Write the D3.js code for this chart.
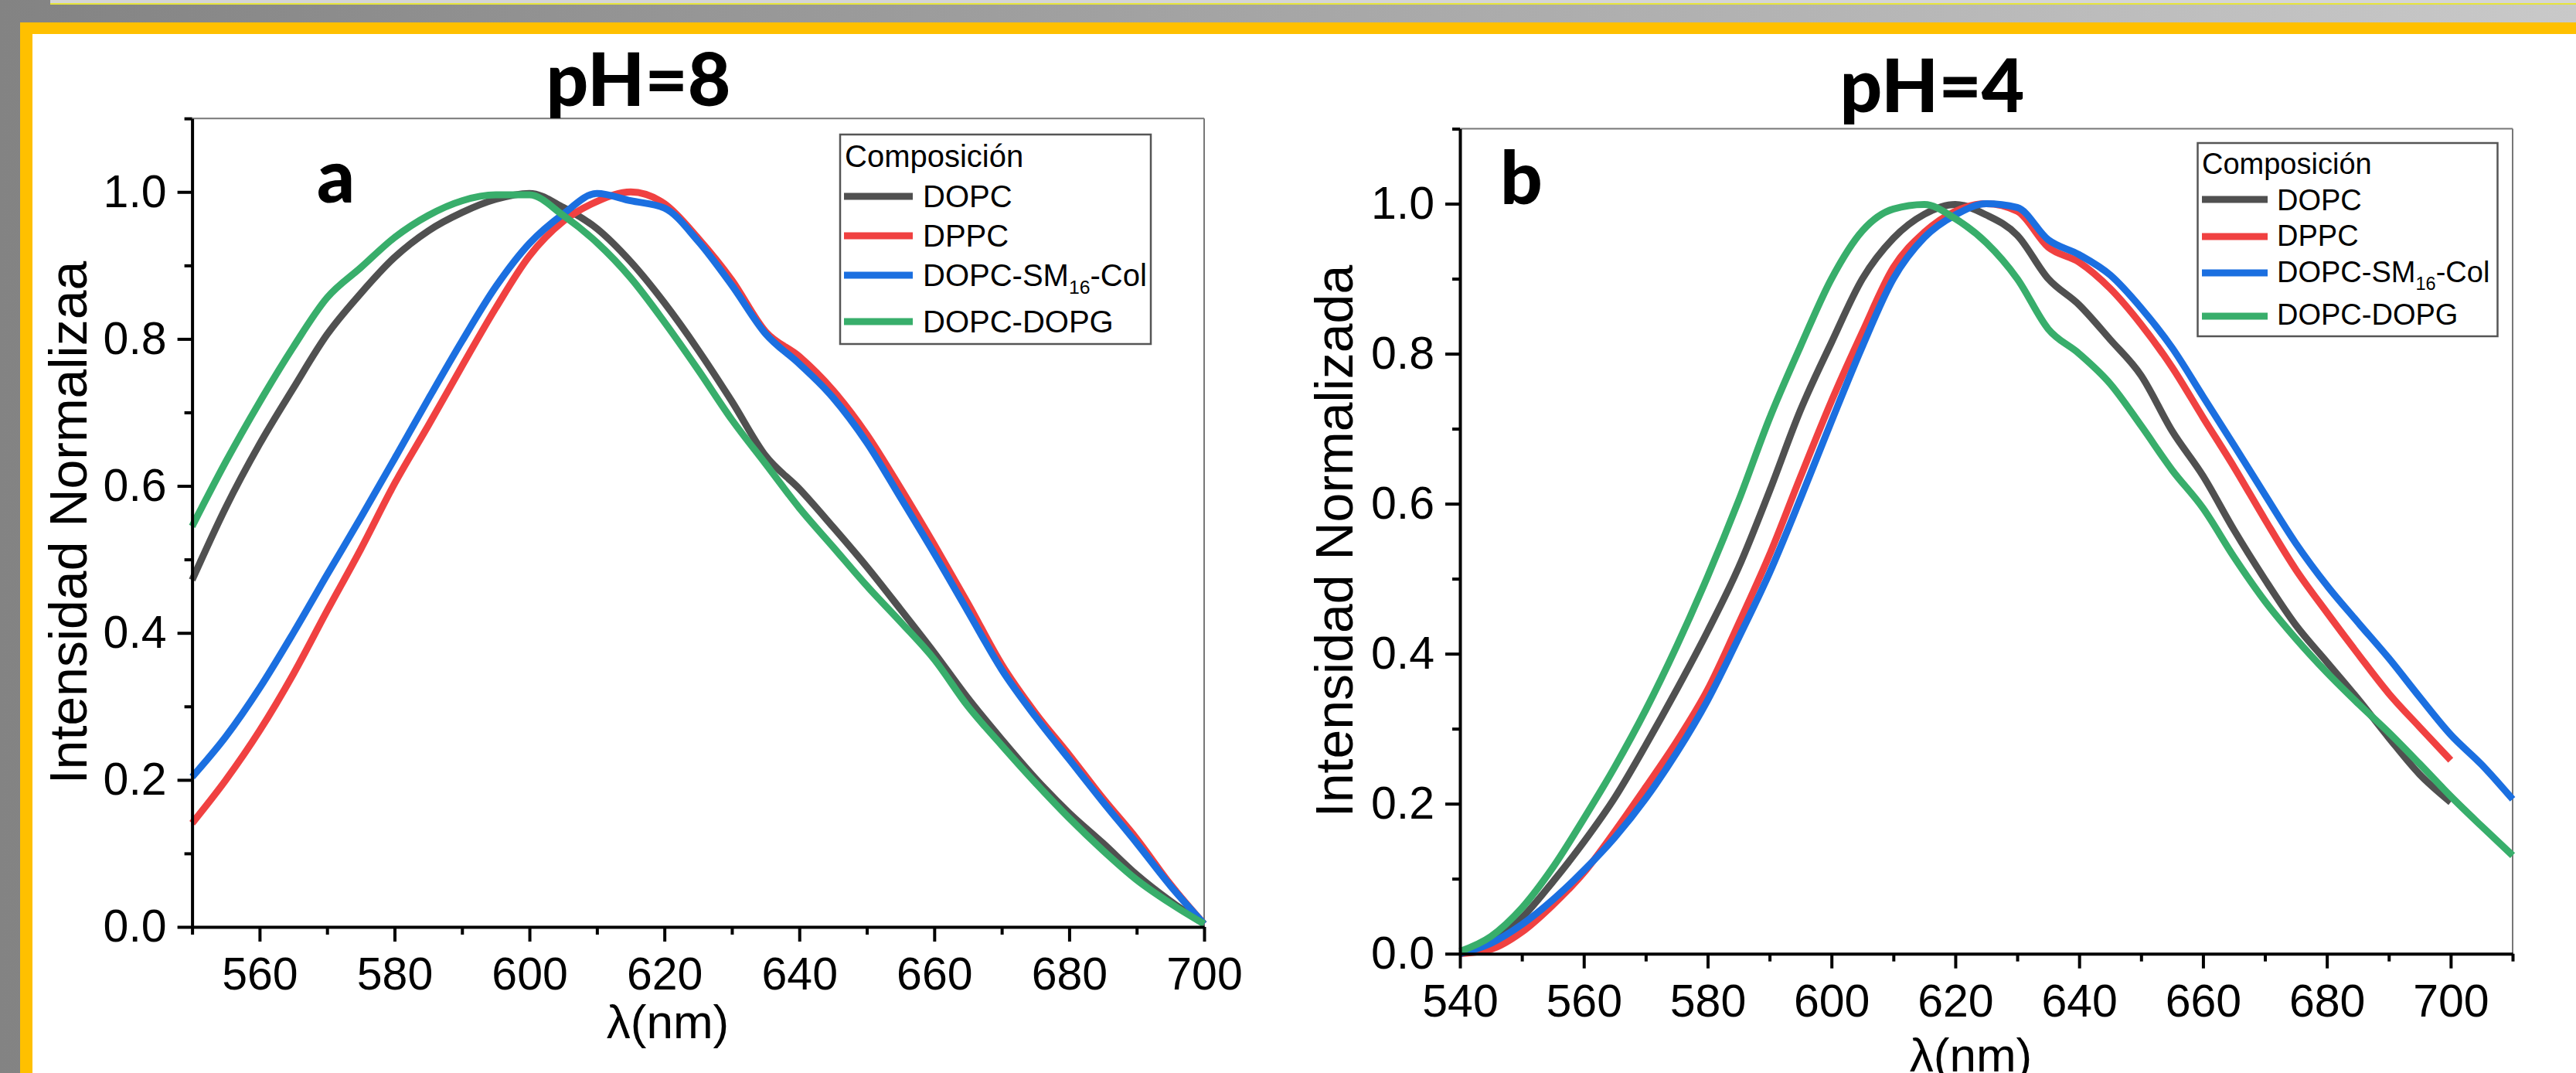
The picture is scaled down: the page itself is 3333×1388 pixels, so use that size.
<!DOCTYPE html>
<html><head><meta charset="utf-8">
<script src="https://cdn.jsdelivr.net/npm/d3@7"></script>
<style>body{margin:0;background:#fff}svg{display:block}</style>
</head><body>
<svg id="c" width="3333" height="1388"></svg>
<script>
// ---------- DATA ----------
const seriesNames = ["DOPC", "DPPC", "DOPC-SM16-Col", "DOPC-DOPG"];
const seriesColors = ["#505050", "#f04141", "#1b6fe0", "#38ae6b"];

// Panel a (pH=8)
const wlA = [550,555,560,565,570,575,580,585,590,595,600,605,610,615,620,625,630,635,640,645,650,655,660,665,670,675,680,685,690,695,700];
const a_DOPC = [0.472,0.571,0.657,0.733,0.806,0.862,0.911,0.947,0.972,0.990,0.998,0.979,0.950,0.905,0.849,0.785,0.715,0.641,0.596,0.544,0.490,0.432,0.373,0.311,0.255,0.202,0.155,0.114,0.071,0.035,0.004];
const a_DPPC = [0.141,0.200,0.267,0.344,0.430,0.514,0.603,0.682,0.763,0.842,0.913,0.960,0.987,1.000,0.984,0.937,0.880,0.810,0.776,0.730,0.670,0.597,0.520,0.440,0.357,0.291,0.234,0.175,0.120,0.058,0.004];
const a_SM   = [0.204,0.259,0.325,0.400,0.479,0.557,0.637,0.718,0.797,0.871,0.930,0.970,0.998,0.988,0.978,0.933,0.873,0.807,0.766,0.720,0.659,0.584,0.508,0.429,0.350,0.286,0.228,0.170,0.114,0.056,0.004];
const a_DOPG = [0.545,0.633,0.714,0.789,0.856,0.897,0.938,0.968,0.988,0.996,0.996,0.968,0.931,0.883,0.823,0.758,0.690,0.630,0.570,0.517,0.464,0.415,0.364,0.300,0.247,0.196,0.148,0.104,0.064,0.032,0.004];

// Panel b (pH=4)
const wlB = [540,545,550,555,560,565,570,575,580,585,590,595,600,605,610,615,620,625,630,635,640,645,650,655,660,665,670,675,680,685,690,695,700,705,710];
const b_DOPC = [0,0.016,0.048,0.096,0.149,0.208,0.278,0.352,0.430,0.515,0.617,0.725,0.815,0.900,0.954,0.986,0.999,0.985,0.958,0.900,0.865,0.819,0.771,0.697,0.637,0.565,0.499,0.438,0.389,0.340,0.288,0.239,0.202];
const b_DPPC = [0,0.006,0.029,0.065,0.108,0.163,0.222,0.283,0.352,0.440,0.532,0.636,0.737,0.829,0.915,0.962,0.990,1.000,0.990,0.942,0.922,0.887,0.839,0.782,0.715,0.649,0.579,0.512,0.455,0.400,0.347,0.302,0.258];
const b_SM   = [0,0.014,0.039,0.072,0.111,0.155,0.207,0.268,0.338,0.421,0.508,0.607,0.710,0.810,0.900,0.955,0.985,1.000,0.995,0.952,0.932,0.905,0.861,0.808,0.743,0.678,0.612,0.547,0.491,0.442,0.394,0.342,0.292,0.252,0.206];
const b_DOPG = [0.003,0.023,0.061,0.115,0.180,0.249,0.325,0.410,0.503,0.604,0.714,0.810,0.900,0.964,0.993,0.999,0.980,0.948,0.900,0.833,0.800,0.760,0.704,0.645,0.594,0.529,0.470,0.420,0.375,0.334,0.295,0.253,0.210,0.170,0.131];

const yMajor = [0,0.2,0.4,0.6,0.8,1.0];
const yMinor = [0.1,0.3,0.5,0.7,0.9,1.1];
const xMajorA = [560,580,600,620,640,660,680,700];
const xMinorA = [550,570,590,610,630,650,670,690];
const xMajorB = [540,560,580,600,620,640,660,680,700];
const xMinorB = [550,570,590,610,630,650,670,690,710];

// ---------- LAYOUT ----------
const svg = d3.select("#c");
const defs = svg.append("defs");
const g = defs.append("linearGradient").attr("id","bg").attr("x1","0").attr("x2","1").attr("y1","0").attr("y2","0");
g.append("stop").attr("offset","0").attr("stop-color","#838383");
g.append("stop").attr("offset","1").attr("stop-color","#c9c9c9");
svg.append("rect").attr("width",3333).attr("height",1388).attr("fill","url(#bg)");
svg.append("rect").attr("x",65).attr("y",0).attr("width",3268).attr("height",5).attr("fill","#d5d5d5");
svg.append("rect").attr("x",65).attr("y",4).attr("width",3268).attr("height",2).attr("fill","#e6e43c");
svg.append("rect").attr("x",26).attr("y",29).attr("width",3307).attr("height",1359).attr("fill","#ffc000");
svg.append("rect").attr("x",42).attr("y",44).attr("width",3291).attr("height",1344).attr("fill","#ffffff");

const FONT = "'Liberation Sans', Arial, sans-serif";

function panel(cfg) {
  const x = d3.scaleLinear().domain(cfg.xDomain).range([cfg.left, cfg.right]);
  const y = d3.scaleLinear().domain([0,1.1]).range([cfg.bottom, cfg.top]);
  const root = svg.append("g");

  // top & right frame
  root.append("line").attr("x1",cfg.left).attr("x2",cfg.right).attr("y1",cfg.top).attr("y2",cfg.top)
    .attr("stroke","#777").attr("stroke-width",2);
  root.append("line").attr("x1",cfg.right).attr("x2",cfg.right).attr("y1",cfg.top).attr("y2",cfg.bottom)
    .attr("stroke","#777").attr("stroke-width",2);

  // series
  const line = d3.line().x(d=>x(d[0])).y(d=>y(d[1])).curve(d3.curveMonotoneX);
  cfg.series.forEach((vals,i)=>{
    const pts = vals.map((v,j)=>[cfg.wl[j], v]);
    root.append("path").attr("d", line(pts)).attr("fill","none")
      .attr("stroke", seriesColors[i]).attr("stroke-width",9)
      .attr("stroke-linejoin","round").attr("stroke-linecap","butt");
  });

  // axes
  function styleAxis(sel) {
    sel.selectAll("path.domain").attr("stroke","#000").attr("stroke-width",4);
    sel.selectAll(".tick line").attr("stroke","#000").attr("stroke-width",4);
    sel.selectAll("text").attr("font-family",FONT).attr("font-size",59).attr("fill","#000");
  }
  const xa = root.append("g").attr("transform",`translate(0,${cfg.bottom})`)
    .call(d3.axisBottom(x).tickValues(cfg.xMajor).tickSize(19).tickSizeOuter(0).tickPadding(20).tickFormat(d3.format("d")));
  styleAxis(xa);
  const xm = root.append("g").attr("transform",`translate(0,${cfg.bottom})`)
    .call(d3.axisBottom(x).tickValues(cfg.xMinor).tickSize(10).tickSizeOuter(0).tickFormat(""));
  xm.select("path.domain").remove(); styleAxis(xm);

  const ya = root.append("g").attr("transform",`translate(${cfg.left},0)`)
    .call(d3.axisLeft(y).tickValues(yMajor).tickSize(19).tickSizeOuter(0).tickPadding(14).tickFormat(d3.format(".1f")));
  styleAxis(ya);
  const ym = root.append("g").attr("transform",`translate(${cfg.left},0)`)
    .call(d3.axisLeft(y).tickValues(yMinor).tickSize(10).tickSizeOuter(0).tickFormat(""));
  ym.select("path.domain").remove(); styleAxis(ym);

  // titles
  root.append("text").attr("x",cfg.titleX).attr("y",cfg.titleY).attr("text-anchor","middle")
    .attr("font-family","Lato, 'DejaVu Sans', sans-serif").attr("font-weight",900).attr("font-size",96)
    .text(cfg.title);
  root.append("text").attr("x",cfg.labX).attr("y",cfg.labY)
    .attr("font-family","Lato, 'DejaVu Sans', sans-serif").attr("font-weight",900).attr("font-size",96)
    .text(cfg.lab);
  root.append("text").attr("x",cfg.xtX).attr("y",cfg.xtY).attr("text-anchor","middle")
    .attr("font-family",FONT).attr("font-size",62).text("λ(nm)");
  root.append("text").attr("transform",`translate(${cfg.ytX},${cfg.ytY}) rotate(-90)`).attr("text-anchor","middle")
    .attr("font-family",FONT).attr("font-size",68).text(cfg.ytitle);

  // legend
  const L = cfg.legend;
  const lg = root.append("g");
  lg.append("rect").attr("x",L.x).attr("y",L.y).attr("width",L.w).attr("height",L.h)
    .attr("fill","#fff").attr("stroke","#555").attr("stroke-width",2.5);
  lg.append("text").attr("x",L.hx).attr("y",L.hy).attr("font-family",FONT).attr("font-size",L.fs).text("Composición");
  seriesNames.forEach((n,i)=>{
    lg.append("line").attr("x1",L.lx1).attr("x2",L.lx2).attr("y1",L.ly[i]).attr("y2",L.ly[i])
      .attr("stroke",seriesColors[i]).attr("stroke-width",9);
    const t = lg.append("text").attr("x",L.tx).attr("y",L.ty[i]).attr("font-family",FONT).attr("font-size",L.fs);
    if (n === "DOPC-SM16-Col") {
      t.append("tspan").text("DOPC-SM");
      t.append("tspan").attr("font-size",L.fs*0.62).attr("dy",L.fs*0.25).text("16");
      t.append("tspan").attr("dy",-L.fs*0.25).text("-Col");
    } else t.text(n);
  });
}

panel({
  left:248.6, right:1558, top:153.2, bottom:1199, xDomain:[550,700],
  wl: wlA, series:[a_DOPC,a_DPPC,a_SM,a_DOPG], xMajor:xMajorA, xMinor:xMinorA,
  title:"pH=8", titleX:826, titleY:137, lab:"a", labX:410, labY:262,
  xtX:864, xtY:1343, ytX:112, ytY:676, ytitle:"Intensidad Normalizaa",
  legend:{x:1087,y:174,w:402,h:271,hx:1093,hy:216,fs:40,lx1:1092,lx2:1181,ly:[254,305,356,416],tx:1194,ty:[268,319,370,430]}
});
panel({
  left:1889, right:3251, top:166.5, bottom:1233.7, xDomain:[540,710],
  wl: wlB, series:[b_DOPC,b_DPPC,b_SM,b_DOPG], xMajor:xMajorB, xMinor:xMinorB,
  title:"pH=4", titleX:2500, titleY:145, lab:"b", labX:1941, labY:264,
  xtX:2550, xtY:1386, ytX:1750, ytY:700, ytitle:"Intensidad Normalizada",
  legend:{x:2843.5,y:185,w:388,h:250,hx:2849,hy:225,fs:38,lx1:2849,lx2:2934,ly:[258,306,353,409],tx:2946,ty:[272,318,365,420]}
});
</script>
</body></html>
